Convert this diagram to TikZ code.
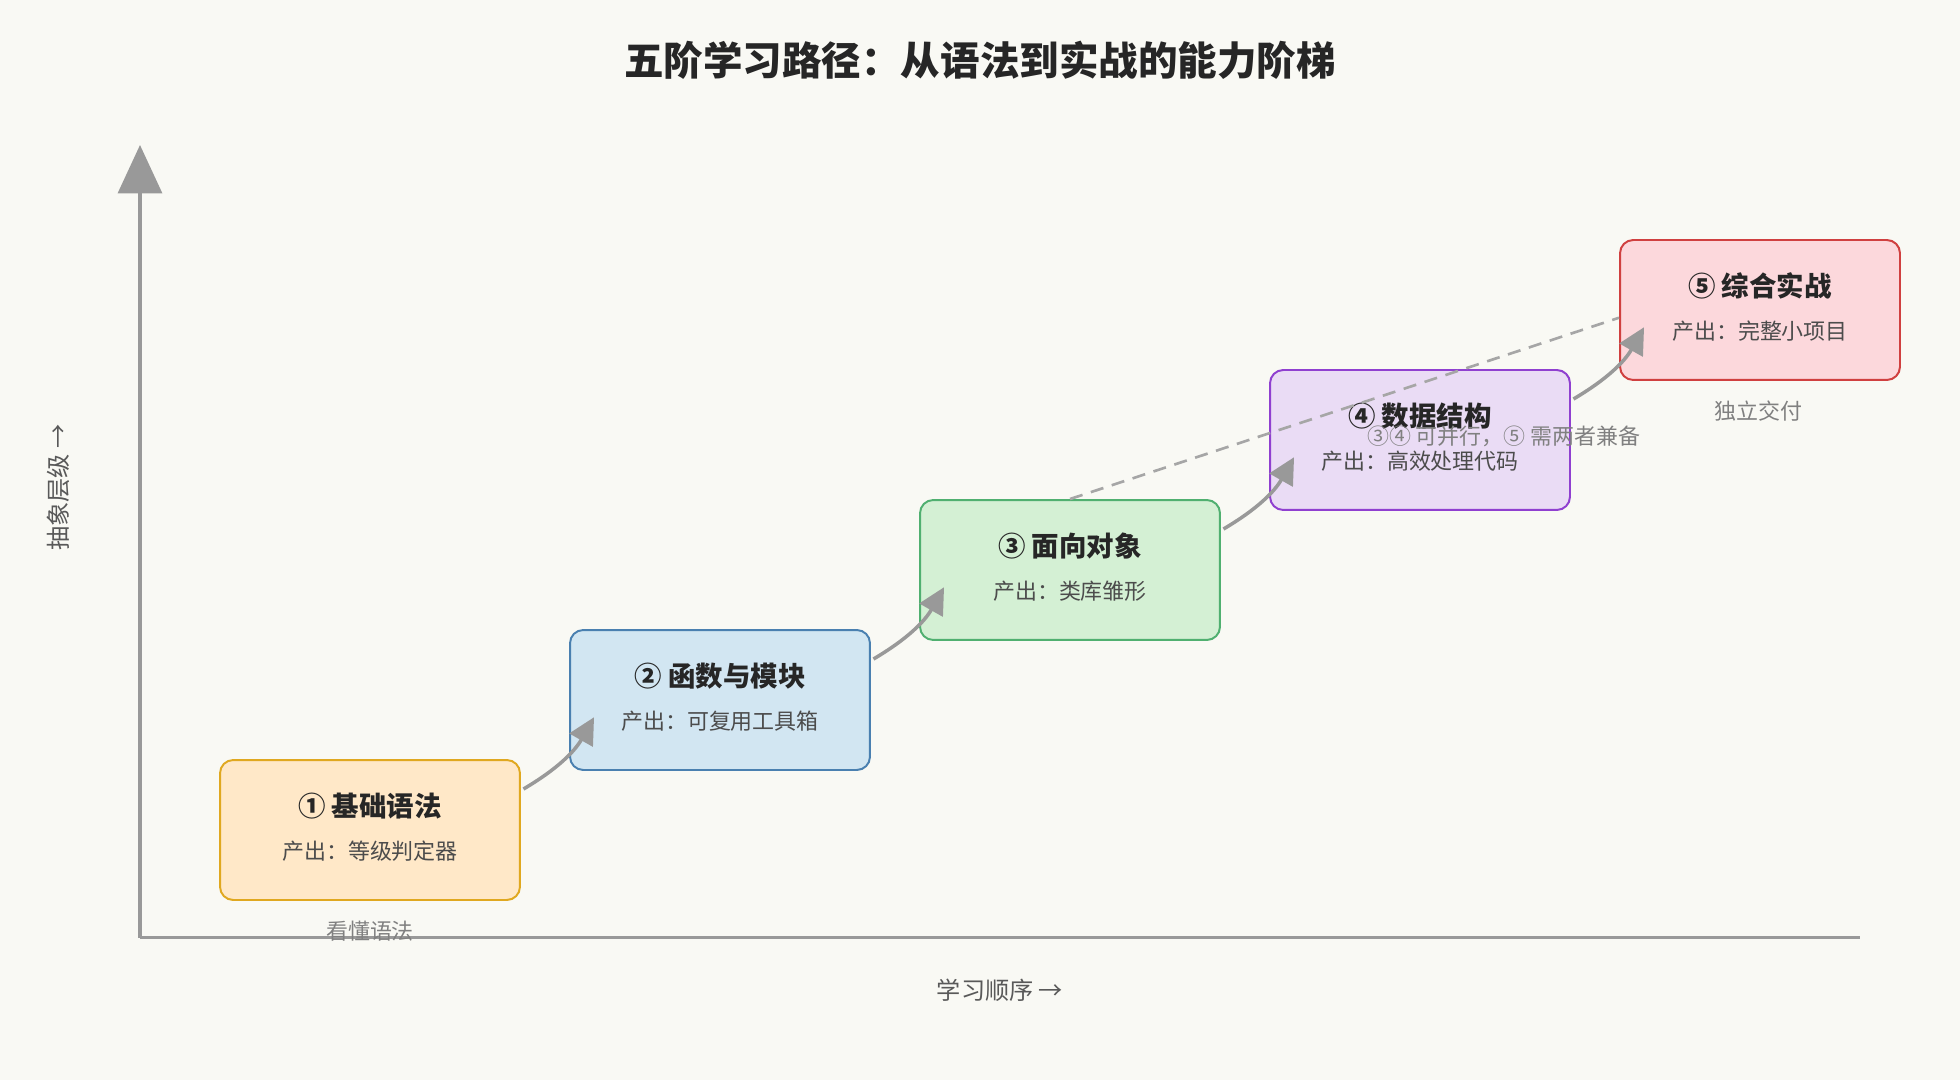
\documentclass[tikz,border=0pt]{standalone}
\usepackage{fontspec}
\setmainfont{Noto Sans CJK SC}
\usetikzlibrary{arrows.meta}
\definecolor{bg}{HTML}{F9F9F4}
\definecolor{axisgray}{HTML}{999999}
\definecolor{fillA}{HTML}{FFE8C8}\definecolor{lineA}{HTML}{E0A820}
\definecolor{fillB}{HTML}{D2E6F2}\definecolor{lineB}{HTML}{4A80B0}
\definecolor{fillC}{HTML}{D4F0D4}\definecolor{lineC}{HTML}{50B070}
\definecolor{fillD}{HTML}{EADCF5}\definecolor{lineD}{HTML}{9040D0}
\definecolor{fillE}{HTML}{FCD8DC}\definecolor{lineE}{HTML}{D04040}
\tikzset{
  stage/.style={rectangle, rounded corners=6pt, minimum width=4.8cm, minimum height=2.24cm, line width=0.9pt},
  ttl/.style={font=\fontsize{12.5}{14}\selectfont\bfseries, text=black!85},
  sub/.style={font=\fontsize{10}{12}\selectfont, text=black!70},
  note/.style={font=\fontsize{10}{12}\selectfont, text=black!50},
  stepline/.style={-{Triangle[length=12pt,width=12pt]}, line width=1.6pt, draw=axisgray},
}
\begin{document}
\begin{tikzpicture}[x=0.02cm,y=-0.02cm]
  \fill[bg] (0,0) rectangle (1568,864);
  \useasboundingbox (0,0) rectangle (1568,864);
  \node[font=\fontsize{18}{20}\selectfont\bfseries, text=black!85] (title) at (784,48) {五阶学习路径：从语法到实战的能力阶梯};

  % axes
  \coordinate (origin) at (112,750);
  \coordinate (ytop) at (112,116);
  \coordinate (xend) at (1488,750);
  \draw[-{Triangle[length=22pt,width=20pt]}, line width=1.5pt, draw=axisgray] (origin) -- (ytop);
  \draw[line width=1.5pt, draw=axisgray] (origin) -- (xend);
  \node[rotate=90, font=\fontsize{11}{13}\selectfont, text=black!65] (ylab) at (47,390) {抽象层级 →};
  \node[font=\fontsize{11}{13}\selectfont, text=black!65] (xlab) at (800,792) {学习顺序 →};

  % stages
  \node[stage, fill=fillA, draw=lineA] (s1) at (296,664) {};
  \node[stage, fill=fillB, draw=lineB] (s2) at (576,560) {};
  \node[stage, fill=fillC, draw=lineC] (s3) at (856,456) {};
  \node[stage, fill=fillD, draw=lineD] (s4) at (1136,352) {};
  \node[stage, minimum width=4.48cm, fill=fillE, draw=lineE] (s5) at (1408,248) {};

  \node[ttl] (t1) at (296,645) {① 基础语法};
  \node[sub] (p1) at (296,681) {产出：等级判定器};
  \node[ttl] (t2) at (576,541) {② 函数与模块};
  \node[sub] (p2) at (576,577) {产出：可复用工具箱};
  \node[ttl] (t3) at (856,437) {③ 面向对象};
  \node[sub] (p3) at (856,473) {产出：类库雏形};
  \node[ttl] (t4) at (1136,333) {④ 数据结构};
  \node[sub] (p4) at (1136,369) {产出：高效处理代码};
  \node[ttl] (t5) at (1408,229) {⑤ 综合实战};
  \node[sub] (p5) at (1408,265) {产出：完整小项目};

  \node[note] (n1) at (296,745) {看懂语法};
  \node[note] (n5) at (1407,329) {独立交付};

  % steps
  \draw[stepline] ([xshift=0.04cm,yshift=-0.48cm]s1.north east) to[bend right=15] ([xshift=0.4cm,yshift=0.86cm]s2.south west);
  \draw[stepline] ([xshift=0.04cm,yshift=-0.48cm]s2.north east) to[bend right=15] ([xshift=0.4cm,yshift=0.86cm]s3.south west);
  \draw[stepline] ([xshift=0.04cm,yshift=-0.48cm]s3.north east) to[bend right=15] ([xshift=0.4cm,yshift=0.86cm]s4.south west);
  \draw[stepline] ([xshift=0.04cm,yshift=-0.48cm]s4.north east) to[bend right=15] ([xshift=0.4cm,yshift=0.86cm]s5.south west);

  % parallel hint
  \draw[line width=1.2pt, draw=black!35, dash pattern=on 6pt off 4pt] (s3.north) -- ([yshift=-1.26cm]s5.north west);
  \node[note] (hint) at (1203,349) {③④ 可并行，⑤ 需两者兼备};
\end{tikzpicture}
\end{document}
